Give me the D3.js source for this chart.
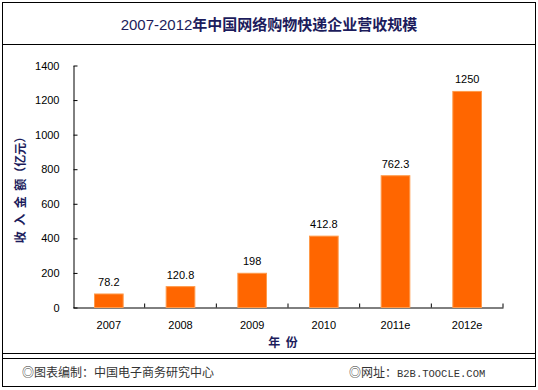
<!DOCTYPE html>
<html><head><meta charset="utf-8">
<script src="https://cdn.jsdelivr.net/npm/d3@7/dist/d3.min.js"></script>
<style>body{margin:0;background:#fff}svg{display:block}text{white-space:pre}</style>
</head><body>
<svg id="c" width="538" height="390"></svg>
<script>
const categories = ["2007","2008","2009","2010","2011e","2012e"];
const values = [78.2,120.8,198,412.8,762.3,1250];
const valueLabels = ["78.2","120.8","198","412.8","762.3","1250"];
const yTicks = [0,200,400,600,800,1000,1200,1400];

const svg = d3.select("#c");
const navy = "#1c1c5c";
// frame
svg.append("rect").attr("x",2.5).attr("y",2.5).attr("width",533).attr("height",384)
  .attr("fill","#fff").attr("stroke","#000").attr("stroke-width",1);
svg.append("line").attr("x1",3).attr("x2",536).attr("y1",44.5).attr("y2",44.5).attr("stroke","#000");
svg.append("line").attr("x1",3).attr("x2",536).attr("y1",353.5).attr("y2",353.5).attr("stroke","#000");
svg.append("line").attr("x1",3).attr("x2",536).attr("y1",358.5).attr("y2",358.5).attr("stroke","#000");

// title
const t = svg.append("text").attr("x",269).attr("y",30).attr("text-anchor","middle")
  .attr("fill",navy).style("font-family","'Noto Sans CJK SC', sans-serif").style("font-size","15px");
t.append("tspan").text("2007-2012").style("font-family","'Liberation Sans', sans-serif").style("font-weight","normal");
t.append("tspan").text("年中国网络购物快递企业营收规模").style("font-weight","bold");

const x = d3.scaleBand().domain(categories).range([73,503]).paddingInner(0.6).paddingOuter(0.3);
const y = d3.scaleLinear().domain([0,1400]).range([307.5,65.5]);

const gx = svg.append("g").attr("transform","translate(0,307.5)")
  .call(d3.axisBottom(x).tickSize(0).tickPadding(14));
gx.select(".domain").attr("stroke","#000");
gx.selectAll("text").style("font-family","'Liberation Sans', sans-serif").style("font-size","11px").attr("fill","#000");
// category separator ticks (inside)
svg.append("g").selectAll("line").data(d3.range(1, categories.length+1)).join("line")
  .attr("x1", i => 73 + i*x.step()).attr("x2", i => 73 + i*x.step())
  .attr("y1",307.5).attr("y2",303.5).attr("stroke","#000");

const gy = svg.append("g").attr("transform","translate(73.5,0)")
  .call(d3.axisLeft(y).tickValues(yTicks).tickFormat(d3.format("d")).tickSize(-4).tickPadding(14).tickSizeOuter(0));
gy.select(".domain").attr("stroke","#000");
gy.selectAll("line").attr("stroke","#000");
gy.selectAll("text").style("font-family","'Liberation Sans', sans-serif").style("font-size","11px").attr("fill","#000");

// bars
svg.append("g").selectAll("rect").data(values).join("rect")
  .attr("x",(d,i)=>x(categories[i])).attr("width",x.bandwidth())
  .attr("y",d=>y(d)).attr("height",d=>y(0)-y(d))
  .attr("fill","#ff6600").attr("stroke","#ff9a4a").attr("stroke-width",1);

svg.append("g").selectAll("text").data(values).join("text")
  .attr("x",(d,i)=>x(categories[i])+x.bandwidth()/2).attr("y",d=>y(d)-8)
  .attr("text-anchor","middle").text((d,i)=>valueLabels[i])
  .style("font-family","'Liberation Sans', sans-serif").style("font-size","11px").attr("fill","#000");

// axis titles
svg.append("text").attr("x",283).attr("y",347).attr("text-anchor","middle")
  .attr("fill",navy).style("font-family","'Noto Sans CJK SC', sans-serif").style("font-weight","bold").style("font-size","12px")
  .text("年  份");
svg.append("text").attr("transform","translate(25,187) rotate(-90)").attr("text-anchor","middle")
  .attr("fill",navy).style("font-family","'Noto Sans CJK SC', sans-serif").style("font-weight","bold").style("font-size","12px")
  .text("收  入  金  额（亿元）");

// footer
svg.append("text").attr("x",22).attr("y",377).attr("fill","#333")
  .style("font-family","'Noto Sans CJK SC', sans-serif").style("font-size","12px").text("◎图表编制：中国电子商务研究中心");
const f2 = svg.append("text").attr("x",349).attr("y",377).attr("fill","#333")
  .style("font-family","'Noto Sans CJK SC', sans-serif").style("font-size","12px");
f2.append("tspan").text("◎网址：");
f2.append("tspan").text("B2B.TOOCLE.COM").style("font-family","'Liberation Mono', monospace").style("font-size","10.5px");
</script>
</body></html>
